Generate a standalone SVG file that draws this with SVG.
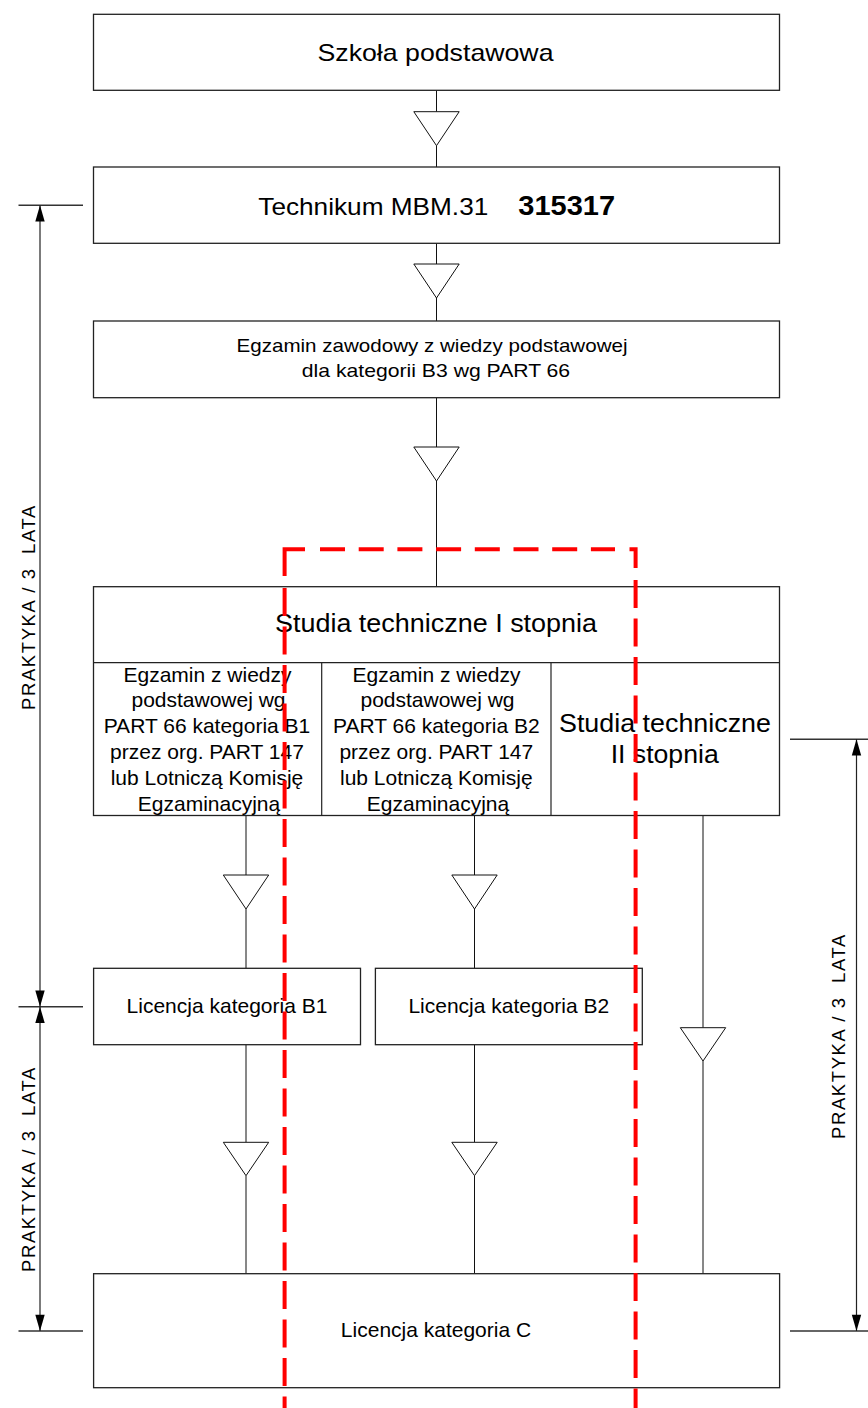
<svg xmlns="http://www.w3.org/2000/svg" width="868" height="1408" viewBox="0 0 868 1408">
  <style>
    .box { fill: #fff; stroke: #222; stroke-width: 1.3; }
    .div { fill: none; stroke: #222; stroke-width: 1.2; }
    .con { fill: none; stroke: #111; stroke-width: 1; }
    .tri { fill: #fff; stroke: #111; stroke-width: 1; }
    .dim { fill: none; stroke: #222; stroke-width: 1.2; }
    .tick { fill: none; stroke: #333; stroke-width: 1.4; }
    .ah { fill: #000; stroke: none; }
    .red { fill: none; stroke: #ff0000; stroke-width: 4; }
    text { font-family: "Liberation Sans", Arial, sans-serif; fill: #000; }
    .t21 { font-size: 21px; text-anchor: middle; }
    .lab { font-size: 18.5px; letter-spacing: 1.6px; text-anchor: middle; }
  </style>
  <rect x="0" y="0" width="868" height="1408" fill="#fff"/>

  <g id="connectors">
    <line class="con" x1="436.5" y1="90.3" x2="436.5" y2="111.7"/>
    <line class="con" x1="436.5" y1="145.7" x2="436.5" y2="167"/>
    <polygon class="tri" points="413.8,111.7 459.2,111.7 436.5,145.7"/>

    <line class="con" x1="436.5" y1="243.3" x2="436.5" y2="264"/>
    <line class="con" x1="436.5" y1="298" x2="436.5" y2="321"/>
    <polygon class="tri" points="413.8,264 459.2,264 436.5,298"/>

    <line class="con" x1="436.5" y1="397.7" x2="436.5" y2="447"/>
    <line class="con" x1="436.5" y1="481" x2="436.5" y2="586.7"/>
    <polygon class="tri" points="413.8,447 459.2,447 436.5,481"/>

    <line class="con" x1="246" y1="815.5" x2="246" y2="875"/>
    <line class="con" x1="246" y1="909" x2="246" y2="968.3"/>
    <polygon class="tri" points="223.3,875 268.7,875 246,909"/>

    <line class="con" x1="474.5" y1="815.5" x2="474.5" y2="875"/>
    <line class="con" x1="474.5" y1="909" x2="474.5" y2="968.3"/>
    <polygon class="tri" points="451.8,875 497.2,875 474.5,909"/>

    <line class="con" x1="246" y1="1044.7" x2="246" y2="1142.3"/>
    <line class="con" x1="246" y1="1175.7" x2="246" y2="1273.7"/>
    <polygon class="tri" points="223.3,1142.3 268.7,1142.3 246,1175.7"/>

    <line class="con" x1="474.5" y1="1044.7" x2="474.5" y2="1142.3"/>
    <line class="con" x1="474.5" y1="1175.7" x2="474.5" y2="1273.7"/>
    <polygon class="tri" points="451.8,1142.3 497.2,1142.3 474.5,1175.7"/>

    <line class="con" x1="703" y1="815.5" x2="703" y2="1027.7"/>
    <line class="con" x1="703" y1="1061" x2="703" y2="1273.7"/>
    <polygon class="tri" points="680.3,1027.7 725.7,1027.7 703,1061"/>
  </g>

  <g id="szkola">
    <rect class="box" x="93.5" y="14.3" width="686" height="76"/>
    <text x="435.5" y="61" font-size="24" text-anchor="middle" textLength="236" lengthAdjust="spacingAndGlyphs">Szkoła podstawowa</text>
  </g>

  <g id="technikum">
    <rect class="box" x="93.5" y="167" width="686" height="76.3"/>
    <text x="258.3" y="214.7" font-size="24.5" textLength="230" lengthAdjust="spacingAndGlyphs">Technikum MBM.31</text>
    <text x="518.3" y="214.7" font-size="28" font-weight="bold" textLength="96.7" lengthAdjust="spacingAndGlyphs">315317</text>
  </g>

  <g id="egzamin-b3">
    <rect class="box" x="93.5" y="321" width="686" height="76.7"/>
    <text x="432" y="351.7" font-size="19" text-anchor="middle" textLength="391" lengthAdjust="spacingAndGlyphs">Egzamin zawodowy z wiedzy podstawowej</text>
    <text x="436" y="377.3" font-size="19" text-anchor="middle" textLength="268.3" lengthAdjust="spacingAndGlyphs">dla kategorii B3 wg PART 66</text>
  </g>

  <g id="studia">
    <rect class="box" x="93.5" y="586.7" width="686" height="228.8"/>
    <line class="div" x1="93.5" y1="662.7" x2="779.5" y2="662.7"/>
    <line class="div" x1="321.7" y1="662.7" x2="321.7" y2="815.5"/>
    <line class="div" x1="551" y1="662.7" x2="551" y2="815.5"/>
    <text x="436" y="632.3" font-size="25.5" text-anchor="middle" textLength="322" lengthAdjust="spacingAndGlyphs">Studia techniczne I stopnia</text>
  </g>

  <g id="egzamin-b1">
    <text class="t21" x="207.5" y="681.5">Egzamin z wiedzy</text>
    <text class="t21" x="208.5" y="707">podstawowej wg</text>
    <text class="t21" x="207" y="733">PART 66 kategoria B1</text>
    <text class="t21" x="207" y="759">przez org. PART 147</text>
    <text class="t21" x="207" y="785">lub Lotniczą Komisję</text>
    <text class="t21" x="209" y="811">Egzaminacyjną</text>
  </g>

  <g id="egzamin-b2">
    <text class="t21" x="436.5" y="681.5">Egzamin z wiedzy</text>
    <text class="t21" x="437.5" y="707">podstawowej wg</text>
    <text class="t21" x="436.3" y="733">PART 66 kategoria B2</text>
    <text class="t21" x="436.3" y="759">przez org. PART 147</text>
    <text class="t21" x="436.3" y="785">lub Lotniczą Komisję</text>
    <text class="t21" x="438" y="811">Egzaminacyjną</text>
  </g>

  <g id="studia-ii">
    <text x="665" y="731.7" font-size="25.5" text-anchor="middle" textLength="212" lengthAdjust="spacingAndGlyphs">Studia techniczne</text>
    <text x="664.7" y="763.3" font-size="25.5" text-anchor="middle" textLength="108" lengthAdjust="spacingAndGlyphs">II stopnia</text>
  </g>

  <g id="licencja-b1">
    <rect class="box" x="93.6" y="968.3" width="266.9" height="76.4"/>
    <text class="t21" x="227" y="1012.7">Licencja kategoria B1</text>
  </g>

  <g id="licencja-b2">
    <rect class="box" x="375.4" y="968.3" width="266.9" height="76.4"/>
    <text class="t21" x="508.8" y="1012.7">Licencja kategoria B2</text>
  </g>

  <g id="licencja-c">
    <rect class="box" x="93.6" y="1273.7" width="686" height="114"/>
    <text class="t21" x="436" y="1336.7">Licencja kategoria C</text>
  </g>

  <g id="dimensions">
    <line class="tick" x1="18.5" y1="205.3" x2="83" y2="205.3"/>
    <line class="tick" x1="18.5" y1="1006.7" x2="83" y2="1006.7"/>
    <line class="tick" x1="18.5" y1="1331" x2="83" y2="1331"/>
    <line class="dim" x1="40" y1="205.3" x2="40" y2="1331"/>
    <polygon class="ah" points="40,205.3 35.3,221.5 44.7,221.5"/>
    <polygon class="ah" points="40,1006.7 35.3,990.5 44.7,990.5"/>
    <polygon class="ah" points="40,1006.7 35.3,1022.9 44.7,1022.9"/>
    <polygon class="ah" points="40,1331 35.3,1314.8 44.7,1314.8"/>

    <line class="tick" x1="790" y1="739.3" x2="868" y2="739.3"/>
    <line class="tick" x1="790" y1="1331" x2="868" y2="1331"/>
    <line class="dim" x1="856.5" y1="739.3" x2="856.5" y2="1331"/>
    <polygon class="ah" points="856.5,739.3 851.8,755.5 861.2,755.5"/>
    <polygon class="ah" points="856.5,1331 851.8,1314.8 861.2,1314.8"/>

    <text class="lab" transform="translate(35,607) rotate(-90)">PRAKTYKA / 3&#160; LATA</text>
    <text class="lab" transform="translate(35,1169) rotate(-90)">PRAKTYKA / 3&#160; LATA</text>
    <text class="lab" transform="translate(845,1036) rotate(-90)">PRAKTYKA / 3&#160; LATA</text>
  </g>

  <g id="highlight">
    <path class="red" d="M284.6,576 V549.3 H305"/>
    <path class="red" d="M320,549.3 H615" stroke-dasharray="25 13.7"/>
    <path class="red" d="M629.5,549.3 H635.6 V568"/>
    <path class="red" d="M284.6,588 V1410" stroke-dasharray="28 10.5"/>
    <path class="red" d="M635.6,580 V1410" stroke-dasharray="28 10.5"/>
  </g>
</svg>
